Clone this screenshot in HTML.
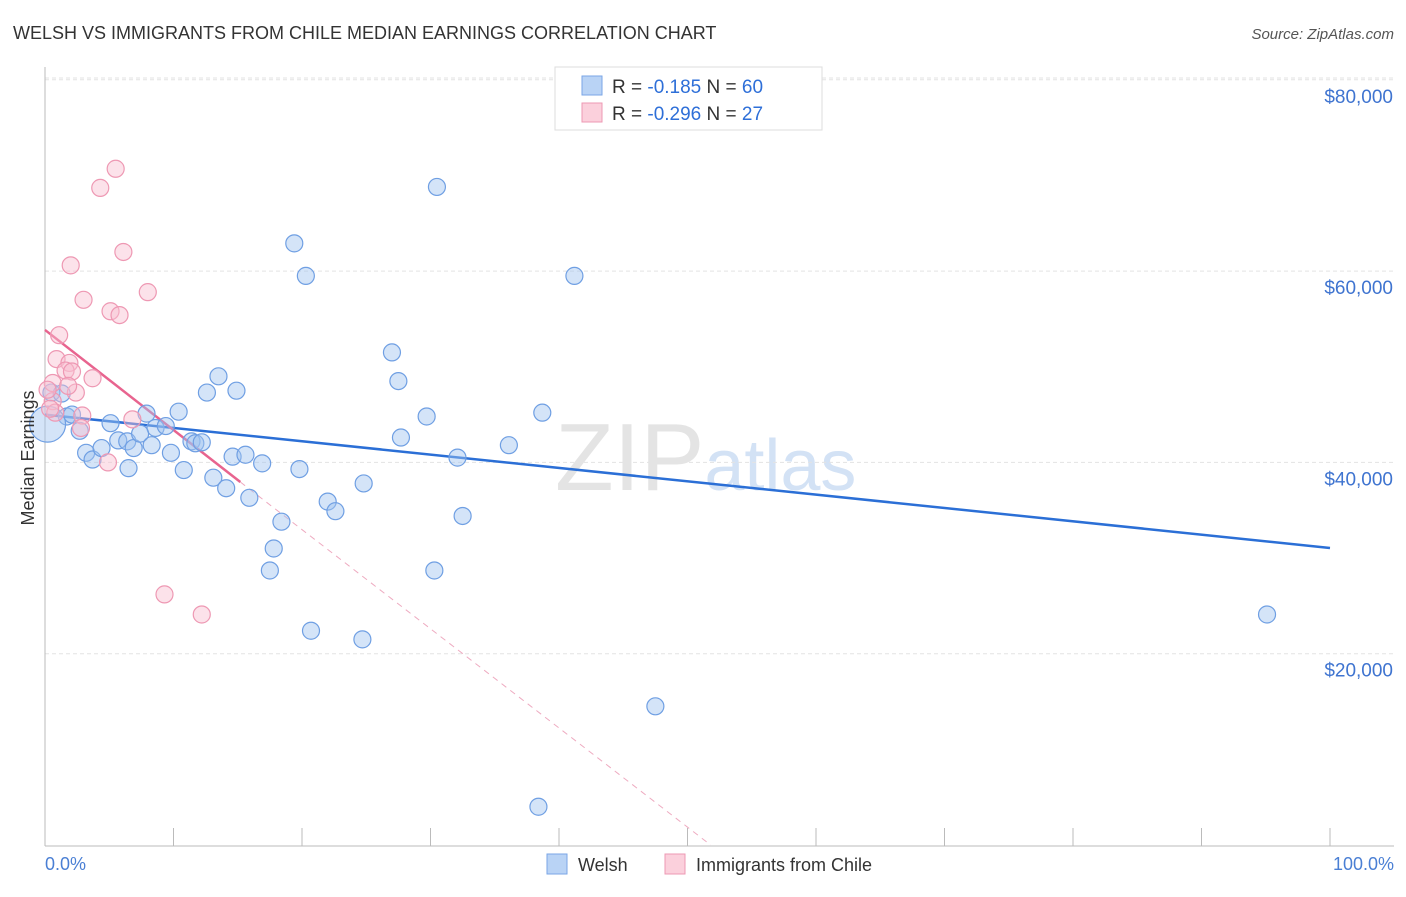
<!DOCTYPE html>
<html><head><meta charset="utf-8"><style>
body{margin:0;background:#fff;font-family:"Liberation Sans",sans-serif}
svg text{font-family:"Liberation Sans",sans-serif}
</style></head><body>
<svg id="chart" width="1406" height="892" viewBox="0 0 1406 892" xmlns="http://www.w3.org/2000/svg">
<text x="13" y="39" font-size="18" fill="#333">WELSH VS IMMIGRANTS FROM CHILE MEDIAN EARNINGS CORRELATION CHART</text>
<text x="1394" y="39" font-size="15" fill="#555" font-style="italic" text-anchor="end">Source: ZipAtlas.com</text>
<text x="555" y="490" font-size="96" fill="#e4e4e4" font-family="Liberation Serif">ZIP<tspan fill="#d3e2f5" font-family="Liberation Sans" font-size="72">atlas</tspan></text>
<g id="grid"></g>
<g id="axes"></g>
<g id="lines"></g>
<g id="pts"></g>
<text transform="translate(34,458) rotate(-90)" font-size="18" fill="#333" text-anchor="middle">Median Earnings</text>
<text x="45" y="870" font-size="18" fill="#4a7fd4">0.0%</text>
<text x="1394" y="870" font-size="18" fill="#4a7fd4" text-anchor="end">100.0%</text>
<g>
<rect x="547" y="854" width="20" height="20" fill="#b9d3f5" stroke="#7aa6e6"/>
<text x="578" y="871" font-size="18" fill="#333">Welsh</text>
<rect x="665" y="854" width="20" height="20" fill="#fbd0dc" stroke="#ee98b3"/>
<text x="696" y="871" font-size="18" fill="#333">Immigrants from Chile</text>
</g>
<g>
<rect x="555" y="67" width="267" height="63" fill="#fff" stroke="#ddd"/>
<rect x="582" y="76" width="20" height="19" fill="#b9d3f5" stroke="#7aa6e6"/>
<rect x="582" y="103" width="20" height="19" fill="#fbd0dc" stroke="#ee98b3"/>
<text x="612" y="93" font-size="19" fill="#333">R = <tspan fill="#2e6fd8">-0.185</tspan>   N = <tspan fill="#2e6fd8">60</tspan></text>
<text x="612" y="120" font-size="19" fill="#333">R = <tspan fill="#2e6fd8">-0.296</tspan>   N = <tspan fill="#2e6fd8">27</tspan></text>
</g>
</svg>
<script>
const yTicks=[20000,40000,60000,80000];
const yTickLabels=["$20,000","$40,000","$60,000","$80,000"];
const welshX=[30.5,19.4,20.3,41.2,27.0,13.5,14.9,27.5,29.7,38.7,36.1,12.6,27.7,32.1,24.8,32.5,30.3,95.1,20.7,24.7,47.5,38.4,0.5,1.3,1.7,2.1,2.7,5.1,3.2,3.7,4.4,5.7,6.4,6.9,6.5,7.9,8.6,7.4,8.3,9.4,9.8,10.4,10.8,11.4,11.7,12.2,13.1,14.1,14.6,15.6,15.9,16.9,17.5,17.8,18.4,19.8,22.0,22.6,0.2];
const welshY=[68800,62900,59500,59500,51500,49000,47500,48500,44800,45200,41800,47300,42600,40500,37800,34400,28700,24100,22400,21500,14500,4000,47300,47200,44800,45000,43300,44100,41000,40300,41500,42300,42200,41500,39400,45100,43600,43000,41800,43800,41000,45300,39200,42200,42000,42100,38400,37300,40600,40800,36300,39900,28700,31000,33800,39300,35900,34900,44000];
const chileX=[5.5,4.3,6.1,2.0,8.0,3.0,5.1,5.8,1.1,0.9,1.9,1.6,2.1,3.7,2.4,0.6,0.6,0.8,2.9,6.8,2.8,4.9,9.3,12.2,0.2,0.4,1.8];
const chileY=[70700,68700,62000,60600,57800,57000,55800,55400,53300,50800,50400,49600,49500,48800,47300,48300,46400,45200,44900,44500,43600,40000,26200,24100,47600,45600,48000];
const welshLine=[[0,45000],[100,31050]];
const chileSolid=[[0,53850],[15.2,37950]];
const chileDash=[[15.2,37950],[51.8,0]];
const X=v=>45+v*12.85, Y=v=>845-v*0.009565;
const NS="http://www.w3.org/2000/svg";
function mk(t,a,p){const e=document.createElementNS(NS,t);for(const k in a)e.setAttribute(k,a[k]);p.appendChild(e);return e;}
const grid=document.getElementById('grid'),axes=document.getElementById('axes');
yTicks.forEach((t,i)=>{
 const l=mk('line',{x1:45,x2:1394,y1:Y(t),y2:Y(t),stroke:'#e3e3e3','stroke-dasharray':'4,3'},grid);
 
 
 const tx=mk('text',{x:1393,y:Y(t)+23,'font-size':19,fill:'#3f74d0','text-anchor':'end'},axes);
 tx.textContent=yTickLabels[i];
 
 
});
mk('line',{x1:45,x2:1394,y1:78,y2:78,stroke:'#e3e3e3','stroke-dasharray':'4,3'},grid);
const ya=mk('line',{x1:45,x2:45,y1:67,y2:846,stroke:'#bbb'},axes);


const xa=mk('line',{x1:45,x2:1394,y1:846,y2:846,stroke:'#bbb'},axes);


for(let i=0;i<=10;i++){const t=mk('line',{x1:X(i*10),x2:X(i*10),y1:828,y2:846,stroke:'#bbb'},axes);
 
 }
const pts=document.getElementById('pts');
welshX.forEach((x,i)=>{const c=mk('circle',{cx:X(x),cy:Y(welshY[i]),r:i==welshX.length-1?18:8.5,fill:'rgba(160,196,240,0.45)',stroke:'#6f9fe3','stroke-width':1.2},pts);
 
 });
chileX.forEach((x,i)=>{const c=mk('circle',{cx:X(x),cy:Y(chileY[i]),r:8.5,fill:'rgba(248,190,208,0.45)',stroke:'#ee98b3','stroke-width':1.2},pts);
 
 });
const lg=document.getElementById('lines');
const wl=mk('line',{x1:X(welshLine[0][0]),y1:Y(welshLine[0][1]),x2:X(welshLine[1][0]),y2:Y(welshLine[1][1]),stroke:'#2b6fd6','stroke-width':2.5},lg);


const cs=mk('line',{x1:X(chileSolid[0][0]),y1:Y(chileSolid[0][1]),x2:X(chileSolid[1][0]),y2:Y(chileSolid[1][1]),stroke:'#e8648f','stroke-width':2.5},lg);


const cd=mk('line',{x1:X(chileDash[0][0]),y1:Y(chileDash[0][1]),x2:X(chileDash[1][0]),y2:Y(chileDash[1][1]),stroke:'#eeaac0','stroke-width':1,'stroke-dasharray':'6,5'},lg);


</script>
</body></html>
